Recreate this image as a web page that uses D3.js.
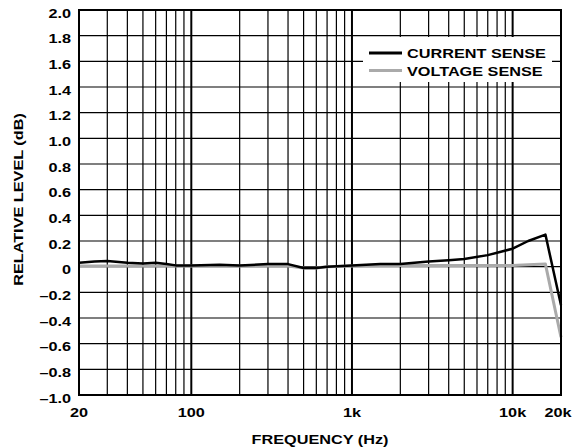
<!DOCTYPE html>
<html>
<head>
<meta charset="utf-8">
<script src="https://cdn.jsdelivr.net/npm/d3@7"></script>
<style>
  body { margin: 0; background: #fff; }
  text { font-family: "Liberation Sans", Arial, sans-serif; font-weight: bold; fill: #000; }
</style>
</head>
<body>
<div id="chart"></div>
<script>
// frequency points (Hz) and level readings (dB)
const freq = [20, 25, 30, 40, 50, 60, 70, 80, 100, 150, 200, 300, 400, 500, 600, 700, 1000, 1500, 2000, 3000, 4000, 5000, 7000, 10000, 12500, 16000, 20000];
const currentSense = [0.03, 0.04, 0.045, 0.03, 0.025, 0.03, 0.02, 0.01, 0.01, 0.015, 0.01, 0.02, 0.02, -0.01, -0.01, 0.0, 0.01, 0.02, 0.02, 0.04, 0.05, 0.06, 0.09, 0.14, 0.2, 0.25, -0.3];
const voltageSense = [0.005, 0.005, 0.005, 0.005, 0.005, 0.005, 0.005, 0.005, 0.005, 0.005, 0.005, 0.005, 0.005, -0.01, -0.01, 0.0, 0.005, 0.01, 0.01, 0.01, 0.01, 0.01, 0.01, 0.01, 0.015, 0.02, -0.55];

const xTicks = [20, 100, 1000, 10000, 20000];
const xTickLabels = ["20", "100", "1k", "10k", "20k"];
const yTicks = [-1.0, -0.8, -0.6, -0.4, -0.2, 0, 0.2, 0.4, 0.6, 0.8, 1.0, 1.2, 1.4, 1.6, 1.8, 2.0];
const legendNames = ["CURRENT SENSE", "VOLTAGE SENSE"];
const lineColors = ["#000000", "#aaaaaa"];

const margin = {top: 10, right: 12, bottom: 53, left: 79};
const width = 573 - margin.left - margin.right;
const height = 448 - margin.top - margin.bottom;
const sx = 1.25; // the type in the figure is set wide

const svg = d3.select("#chart").append("svg")
    .attr("width", 573)
    .attr("height", 448);
const chart = svg.append("g")
    .attr("transform", "translate(" + margin.left + "," + margin.top + ")");

const x = d3.scaleLog().domain([20, 20000]).range([0, width]);
const y = d3.scaleLinear().domain([-1, 2]).range([height, 0]);

function label(g, px, py, str, anchor, size, rot) {
  return g.append("text")
    .attr("transform", "translate(" + px + "," + py + ")" + (rot ? " rotate(" + rot + ")" : "") + " scale(" + sx + ",1)")
    .attr("text-anchor", anchor)
    .attr("font-size", size)
    .text(str);
}

// vertical grid: every 1-2-...-9 step of each decade
const gridX = [];
[10, 100, 1000].forEach(function(dec) {
  for (let k = 2; k <= 10; k++) {
    const f = dec * k;
    if (f > 20 && f < 20000) gridX.push(f);
  }
});
chart.append("g").selectAll("line")
  .data(gridX)
  .enter().append("line")
    .attr("x1", function(d) { return x(d); })
    .attr("x2", function(d) { return x(d); })
    .attr("y1", 0)
    .attr("y2", height)
    .attr("stroke", "#000")
    .attr("stroke-width", function(d) { return (d === 100 || d === 1000 || d === 10000) ? 2 : 1.2; });

// horizontal grid
chart.append("g").selectAll("line")
  .data(yTicks.slice(1, -1))
  .enter().append("line")
    .attr("x1", 0)
    .attr("x2", width)
    .attr("y1", function(d) { return y(d); })
    .attr("y2", function(d) { return y(d); })
    .attr("stroke", "#000")
    .attr("stroke-width", 1.2);

// legend box hides the grid behind it
chart.append("rect")
  .attr("x", 284)
  .attr("y", 27)
  .attr("width", 189)
  .attr("height", 45)
  .attr("fill", "#fff");

// data lines
const line = d3.line()
  .x(function(d, i) { return x(freq[i]); })
  .y(function(d) { return y(d); });

chart.append("path")
  .datum(voltageSense)
  .attr("fill", "none")
  .attr("stroke", lineColors[1])
  .attr("stroke-width", 3)
  .attr("stroke-linejoin", "round")
  .attr("d", line);

chart.append("path")
  .datum(currentSense)
  .attr("fill", "none")
  .attr("stroke", lineColors[0])
  .attr("stroke-width", 2.5)
  .attr("stroke-linejoin", "round")
  .attr("d", line);

// frame
chart.append("rect")
  .attr("width", width)
  .attr("height", height)
  .attr("fill", "none")
  .attr("stroke", "#000")
  .attr("stroke-width", 2);

// legend
const legend = chart.append("g").attr("transform", "translate(290,43)");
legendNames.forEach(function(name, i) {
  legend.append("line")
    .attr("x1", 0).attr("x2", 33)
    .attr("y1", i * 17.6).attr("y2", i * 17.6)
    .attr("stroke", lineColors[i])
    .attr("stroke-width", 3);
  label(legend, 38, i * 17.6 + 5, name, "start", 13);
});

// tick labels
yTicks.forEach(function(v) {
  const s = v === 0 ? "0" : (v < 0 ? "\u2013" : "") + Math.abs(v).toFixed(1);
  label(chart, -8, y(v) + 7.6, s, "end", 13);
});
xTicks.forEach(function(f, i) {
  const px = f === 20000 ? x(f) - 3 : x(f);
  label(chart, px, height + 22, xTickLabels[i], "middle", 13);
});

// axis titles
label(chart, width / 2, height + 49, "FREQUENCY (Hz)", "middle", 13);
label(chart, -margin.left + 23, height / 2 - 3, "RELATIVE LEVEL (dB)", "middle", 13, -90);
</script>
</body>
</html>
